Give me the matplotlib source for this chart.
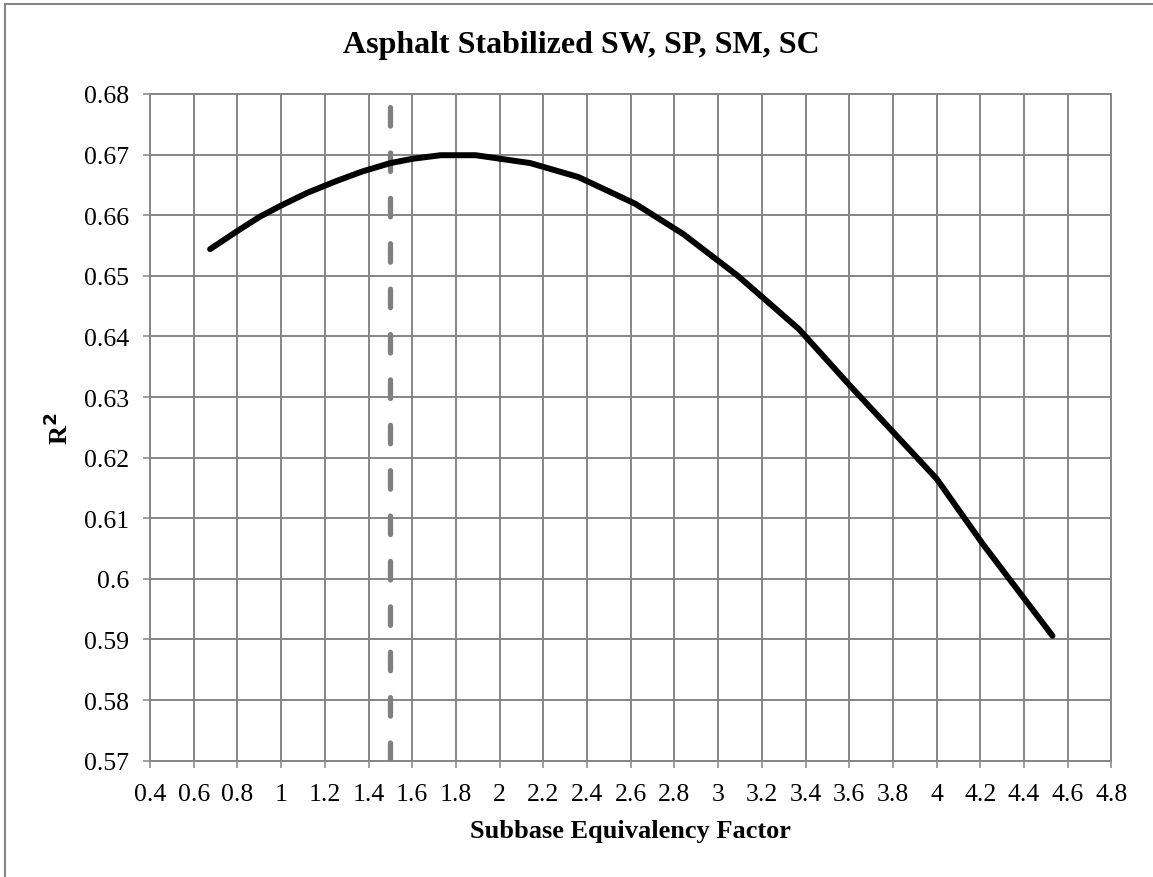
import matplotlib
matplotlib.use("Agg")
import matplotlib.pyplot as plt
from matplotlib.lines import Line2D

# valeurs
facteur = [0.675, 0.8, 0.9, 1.0, 1.12, 1.25, 1.37, 1.5, 1.6, 1.73, 1.89, 2.14, 2.36, 2.62, 2.84, 3.09, 3.37, 3.6, 4.0, 4.21, 4.53]
r2 = [0.6544, 0.6574, 0.6597, 0.6616, 0.6637, 0.6656, 0.6672, 0.6686, 0.6693, 0.6699, 0.6699, 0.6686, 0.6663, 0.6619, 0.6569, 0.6500, 0.6412, 0.6320, 0.6165, 0.6058, 0.5906]
choisi_x = [1.5, 1.5]
choisi_y = [0.57, 0.68]
xticks = [0.4, 0.6, 0.8, 1.0, 1.2, 1.4, 1.6, 1.8, 2.0, 2.2, 2.4, 2.6, 2.8, 3.0, 3.2, 3.4, 3.6, 3.8, 4.0, 4.2, 4.4, 4.6, 4.8]
xlabels = ["0.4", "0.6", "0.8", "1", "1.2", "1.4", "1.6", "1.8", "2", "2.2", "2.4", "2.6", "2.8", "3", "3.2", "3.4", "3.6", "3.8", "4", "4.2", "4.4", "4.6", "4.8"]
yticks = [0.57, 0.58, 0.59, 0.60, 0.61, 0.62, 0.63, 0.64, 0.65, 0.66, 0.67, 0.68]
ylabels = ["0.57", "0.58", "0.59", "0.6", "0.61", "0.62", "0.63", "0.64", "0.65", "0.66", "0.67", "0.68"]

GRIS = "#868686"
plt.rcParams["font.family"] = ["Liberation Serif", "DejaVu Serif"]

fig = plt.figure(figsize=(11.53, 8.78), dpi=100)
ax = fig.add_axes([0.1301, 0.1325, 0.9640 - 0.1301, 0.8918 - 0.1325])

ax.plot(choisi_x, choisi_y, color="#808080", lw=3.8, linestyle=(0, (3.5, 5.1)), dash_capstyle="round", zorder=3)
ax.plot(facteur, r2, color="black", lw=4.3, solid_capstyle="round", solid_joinstyle="round", zorder=4)

ax.set_xlim(0.4, 4.8); ax.set_ylim(0.57, 0.68)
ax.set_xticks(xticks, xlabels); ax.set_yticks(yticks, ylabels)
ax.grid(True, color=GRIS, lw=1.4)
ax.set_axisbelow(True)
for s in ax.spines.values():
    s.set_color(GRIS); s.set_linewidth(1.4)
ax.tick_params(direction="out", length=5, width=1.1, color=GRIS, labelsize=18.5, labelcolor="black")
ax.tick_params(axis="x", pad=11); ax.tick_params(axis="y", pad=10)

# le titre est centré sur la figure, pas sur la zone de tracé
fig.text(0.504, 1 - 45/878, "Asphalt Stabilized SW, SP, SM, SC", fontsize=23, fontweight="bold", ha="center", va="center")
ax.set_xlabel("Subbase Equivalency Factor", fontsize=19, fontweight="bold", labelpad=10)
ax.set_ylabel("R$^\\mathbf{2}$", fontsize=19, fontweight="bold", labelpad=8)

# cadre extérieur du graphique
fig.add_artist(Line2D([5/1153, 5/1153], [0, 1 - 5/878], color=GRIS, lw=1.5, transform=fig.transFigure))
fig.add_artist(Line2D([5/1153, 1], [1 - 5/878, 1 - 5/878], color=GRIS, lw=1.5, transform=fig.transFigure))

fig.savefig("out.png", dpi=100, facecolor="white")
